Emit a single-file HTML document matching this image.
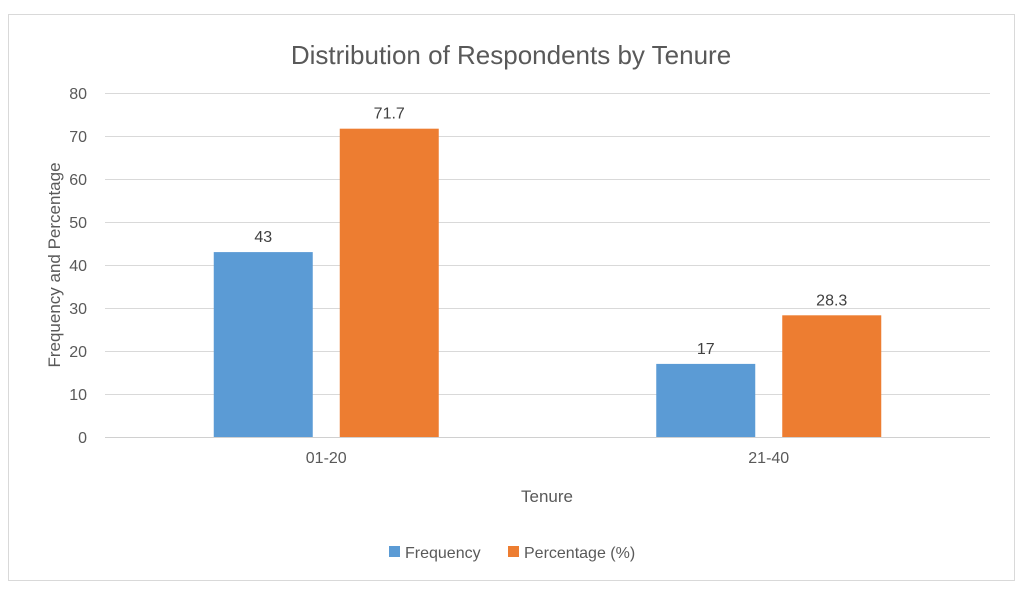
<!DOCTYPE html>
<html><head><meta charset="utf-8"><style>
body{margin:0;background:#fff;}
svg{display:block;font-family:"Liberation Sans",sans-serif;}
</style></head><body>
<svg width="1024" height="594" viewBox="0 0 1024 594">
<rect x="0" y="0" width="1024" height="594" fill="#fff"/>
<rect x="8.5" y="14.5" width="1006" height="566" fill="#fff" stroke="#d9d9d9"/>
<text x="511" y="64" text-anchor="middle" font-size="26" fill="#595959">Distribution of Respondents by Tenure</text>
<g id="grid"></g><g id="bars"></g><g id="labels"></g>
<text transform="translate(60,265) rotate(-90)" text-anchor="middle" font-size="17" fill="#595959">Frequency and Percentage</text>
<text x="547" y="502" text-anchor="middle" font-size="17" fill="#595959">Tenure</text>
<g>
<rect x="389" y="546" width="11" height="11" fill="#5b9bd5"/>
<text x="405" y="558" font-size="16" fill="#595959">Frequency</text>
<rect x="508" y="546" width="11" height="11" fill="#ed7d31"/>
<text x="524" y="558" font-size="16" fill="#595959">Percentage (%)</text>
</g>
</svg>
<script>
const categories=["01-20","21-40"];
const frequency=[43,17];
const percentage=[71.7,28.3];
const freqLabels=["43","17"];
const pctLabels=["71.7","28.3"];
const yTicks=[0,10,20,30,40,50,60,70,80];
const NS="http://www.w3.org/2000/svg";
const x0=105,x1=990,y0=437,yTop=93,yMax=80;
const ys=v=>y0-(v/yMax)*(y0-yTop);
const bandW=(x1-x0)/categories.length;
const xc=i=>x0+bandW*(i+0.5);
function mk(tag,attrs,parent){const e=document.createElementNS(NS,tag);for(const k in attrs)e.setAttribute(k,attrs[k]);parent.appendChild(e);return e;}
const grid=document.getElementById('grid'),bars=document.getElementById('bars'),labels=document.getElementById('labels');
yTicks.forEach(t=>{
 const l=mk('line',{x1:x0,x2:x1,y1:ys(t)+0.5,y2:ys(t)+0.5,stroke:t===0?'#d0d0d0':'#d9d9d9','stroke-width':1},grid);
 
 
 const tx=mk('text',{x:87,y:ys(t)+6,'text-anchor':'end','font-size':16,fill:'#595959'},grid);
 tx.textContent=t;
 
 
});
const bw=99,gap=27;
categories.forEach((c,i)=>{
 const cx=xc(i);
 const series=[[frequency[i],'#5b9bd5',freqLabels[i],'frequency',cx-gap/2-bw],[percentage[i],'#ed7d31',pctLabels[i],'percentage',cx+gap/2]];
 series.forEach(s=>{
  const r=mk('rect',{x:s[4],y:ys(s[0]),width:bw,height:y0-ys(s[0]),fill:s[1]},bars);
  
  
  const t=mk('text',{x:s[4]+bw/2,y:ys(s[0])-10,'text-anchor':'middle','font-size':16,fill:'#404040'},labels);
  t.textContent=s[2];
  
  
 });
 const xt=mk('text',{x:cx,y:463,'text-anchor':'middle','font-size':16,fill:'#595959'},labels);
 xt.textContent=c;
 
 
});
</script>
</body></html>
